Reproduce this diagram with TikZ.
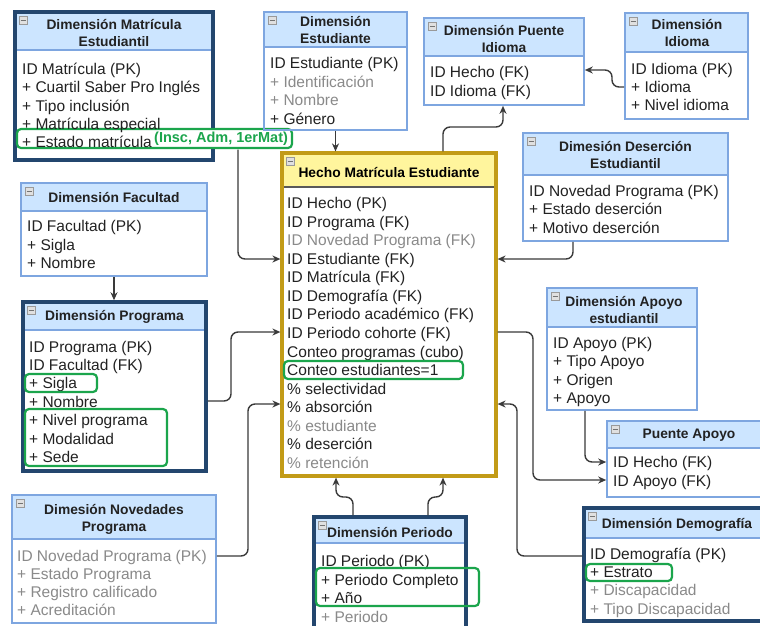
\documentclass[tikz,border=0pt]{standalone}
\usepackage{fontspec}
\setmainfont{Liberation Sans}
\usetikzlibrary{arrows.meta,fit}
\definecolor{lb}{HTML}{7EA6E0}
\definecolor{hb}{HTML}{CCE5FF}
\definecolor{db}{HTML}{23466E}
\definecolor{gb}{HTML}{C29B17}
\definecolor{yh}{HTML}{FFF59D}
\definecolor{grn}{HTML}{1BA54C}
\definecolor{tx}{HTML}{222222}
\definecolor{tg}{HTML}{8A8A8A}
\definecolor{ln}{HTML}{3A3A3A}
\newcommand\gt{\color{tg}}
\tikzset{
 lightbox/.style={draw=lb, line width=1.6pt},
 darkbox/.style={draw=db, line width=3.5pt},
 goldbox/.style={draw=gb, line width=3.2pt},
 item/.style={anchor=west, inner sep=0pt, text height=12pt, text depth=1pt, font=\fontsize{15.5}{18}\selectfont, text=tx},
 hdr/.style={align=center, inner sep=0pt, font=\bfseries\fontsize{13.8}{17}\selectfont, text=tx},
 hl/.style={draw=grn, line width=2.2pt, rounded corners=4pt, inner sep=0pt},
 conn/.style={draw=ln, line width=1.4pt, rounded corners=7pt, -{Stealth[length=8pt,width=7pt]}},
}
% name, border style, header fill, separator colour, x1, y1, x2, y2, header bottom
\newcommand\erbox[9]{%
 \fill[#3] (#5,#6) rectangle (#7,#9);
 \draw[#4, line width=1.2pt] (#5,#9) -- (#7,#9);
 \node[#2, fit={(#5,#6) (#7,#8)}, inner sep=0pt] (#1) {};
 \filldraw[fill=black!12, draw=black!40, line width=0.6pt] (#5+4,#6+4) rectangle (#5+12,#6+12);
 \draw[black!55, line width=0.9pt] (#5+5.5,#6+8) -- (#5+10.5,#6+8);
}
\newcommand\fields[5]{\foreach \t [count=\i] in {#5} {\node[item] (#1-\i) at (#2,{#3+(\i-1)*#4}) {\t};}}
\begin{document}
\begin{tikzpicture}[x=1pt,y=-1pt]
\fill[white] (0,0) rectangle (760,625);
\useasboundingbox (0,0) rectangle (760,625);

% Dimension Matricula Estudiantil
\erbox{matri}{darkbox}{hb}{lb}{15}{12}{213}{160}{50}
\node[hdr] (matri-h) at (114,33) {Dimensión Matrícula\\Estudiantil};
\node[hl, fill=white, fit={(17,129) (292,148)}] (gEst) {};
\fields{matri}{22}{69}{18.3}{ID Matrícula (PK),+ Cuartil Saber Pro Inglés,+ Tipo inclusión,+ Matrícula especial,+ Estado matrícula}
\node[anchor=west, inner sep=0pt, font=\bfseries\fontsize{14.5}{15}\selectfont, text=grn] (gEstl) at (154,138.5) {(Insc, Adm, 1erMat)};

% Dimension Estudiante
\erbox{estud}{lightbox}{hb}{lb}{264}{12}{407}{130}{47}
\node[hdr] (estud-h) at (335.5,30.5) {Dimensión\\Estudiante};
\fields{estud}{270}{63}{18.5}{ID Estudiante (PK),\gt + Identificación,\gt + Nombre,+ Género}

% Dimension Puente Idioma
\erbox{pidioma}{lightbox}{hb}{lb}{424}{18}{584}{105}{56}
\node[hdr] (pidioma-h) at (504,39) {Dimensión Puente\\Idioma};
\fields{pidioma}{430}{72}{18.5}{ID Hecho (FK),ID Idioma (FK)}

% Dimension Idioma
\erbox{idioma}{lightbox}{hb}{lb}{625}{13}{748}{119}{52}
\node[hdr] (idioma-h) at (687,33.5) {Dimensión\\Idioma};
\fields{idioma}{631}{69}{18.2}{ID Idioma (PK),+ Idioma,+ Nivel idioma}

% Dimension Facultad
\erbox{facultad}{lightbox}{hb}{lb}{21}{183}{207}{276}{211}
\node[hdr] (facultad-h) at (114,197) {Dimensión Facultad};
\fields{facultad}{27}{226}{18.5}{ID Facultad (PK),+ Sigla,+ Nombre}

% Dimension Programa
\erbox{programa}{darkbox}{hb}{lb}{23}{302}{206}{471}{330}
\node[hdr] (programa-h) at (114.5,317) {Dimensión Programa};
\fields{programa}{29}{346.5}{18.4}{ID Programa (PK),ID Facultad (FK),+ Sigla,+ Nombre,+ Nivel programa,+ Modalidad,+ Sede}
\node[hl, fit={(25,374) (97,392)}] (gSig) {};
\node[hl, fit={(25,409) (167,466)}] (gNiv) {};

% Hecho Matricula Estudiante
\erbox{hecho}{goldbox}{yh}{black!65}{282}{153}{496}{476}{187}
\node[hdr, text=black] (hecho-h) at (389,172) {Hecho Matrícula Estudiante};
\fields{hecho}{287}{203}{18.57}{ID Hecho (PK),ID Programa (FK),\gt ID Novedad Programa (FK),ID Estudiante (FK),ID Matrícula (FK),ID Demografía (FK),ID Periodo académico (FK),ID Periodo cohorte (FK),Conteo programas (cubo),Conteo estudiantes=1,\% selectividad,\% absorción,\gt \% estudiante,\% deserción,\gt \% retención}
\node[hl, fit={(284,361) (463,379)}] (gCon) {};

% Dimesion Desercion Estudiantil
\erbox{desercion}{lightbox}{hb}{lb}{523}{133}{728}{241}{175}
\node[hdr] (desercion-h) at (625.5,155) {Dimesión Deserción\\Estudiantil};
\fields{desercion}{529}{191}{18.3}{ID Novedad Programa (PK),+ Estado deserción,+ Motivo deserción}

% Dimension Apoyo estudiantil
\erbox{apoyo}{lightbox}{hb}{lb}{547}{288}{697}{410}{327}
\node[hdr] (apoyo-h) at (624,310) {Dimensión Apoyo\\estudiantil};
\fields{apoyo}{553}{343}{18.4}{ID Apoyo (PK),+ Tipo Apoyo,+ Origen,+ Apoyo}

% Puente Apoyo
\erbox{papoyo}{lightbox}{hb}{lb}{607}{421}{771}{497}{448}
\node[hdr] (papoyo-h) at (689,435) {Puente Apoyo};
\fields{papoyo}{613}{462}{18.5}{ID Hecho (FK),ID Apoyo (FK)}

% Dimesion Novedades Programa
\erbox{novedades}{lightbox}{hb}{lb}{12}{495}{216}{623}{539}
\node[hdr] (novedades-h) at (114,519.5) {Dimesión Novedades\\Programa};
\fields{novedades}{17}{556}{18}{\gt ID Novedad Programa (PK),\gt + Estado Programa,\gt + Registro calificado,\gt + Acreditación}

% Dimension Periodo
\erbox{periodo}{darkbox}{hb}{lb}{314}{517}{466}{635}{543}
\node[hdr] (periodo-h) at (390,532) {Dimensión Periodo};
\fields{periodo}{321}{561}{18.6}{ID Periodo (PK),+ Periodo Completo,+ Año,\gt + Periodo}
\node[hl, fit={(316,568) (479,606)}] (gPer) {};

% Dimension Demografia
\erbox{demografia}{darkbox}{hb}{lb}{584}{508}{771}{621}{538}
\node[hdr] (demografia-h) at (677,525) {Dimensión Demografía};
\fields{demografia}{590}{554}{18.2}{ID Demografía (PK),+ Estrato,\gt + Discapacidad,\gt + Tipo Discapacidad}
\node[hl, fit={(586,564) (672,581)}] (gEstr) {};

% connectors
\coordinate (m1) at (238,149.5);
\draw[conn] (m1) |- (hecho.west |- 0,259);
\draw[conn] (estud.south) -- (estud.south |- hecho.north);
\draw[conn] (hecho.north -| 443,0) |- (503,127) -- (pidioma.south -| 503,0);
\draw[conn] (idioma.west |- 0,87) -- (612,87) |- (pidioma.east |- 0,70);
\draw[conn] (desercion.south -| 573,0) |- (hecho.east |- 0,259);
\draw[conn] (facultad.south -| 114,0) -- (programa.north -| 114,0);
\draw[conn] (programa.east |- 0,401) -| (231,332) -- (hecho.west |- 0,332);
\draw[conn] (novedades.east |- 0,556) -| (248,404) -- (hecho.west |- 0,404);
\draw[conn] (hecho.east |- 0,332) -| (533,480) -- (papoyo.west |- 0,480);
\draw[conn] (apoyo.south -| 585,0) |- (papoyo.west |- 0,462);
\draw[conn] (demografia.west |- 0,556) -| (517,404) -- (hecho.east |- 0,404);
\draw[conn] (periodo.north -| 353,0) |- (336,497) -- (hecho.south -| 336,0);
\draw[conn] (periodo.north -| 428,0) |- (443,497) -- (hecho.south -| 443,0);
\end{tikzpicture}
\end{document}
